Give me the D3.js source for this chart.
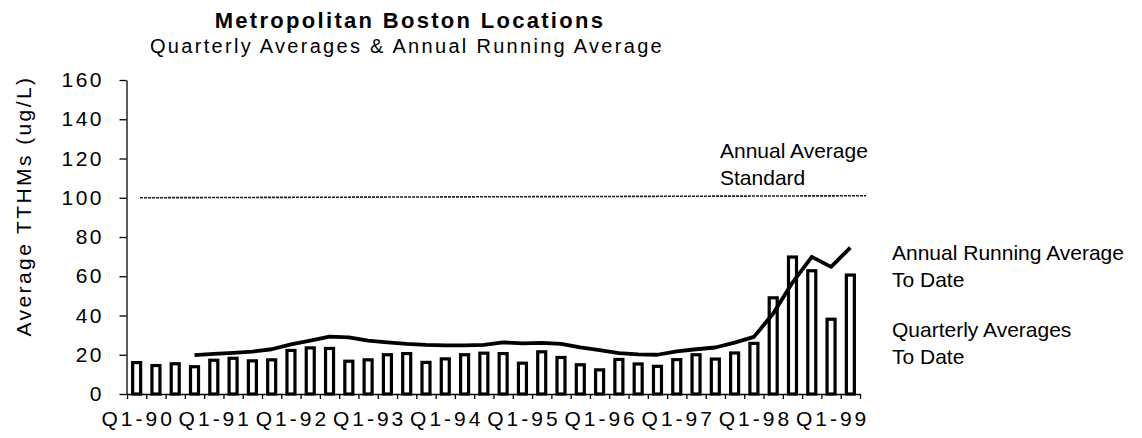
<!DOCTYPE html>
<html lang="en">

<head>
    <meta charset="utf-8">
    <title>Metropolitan Boston Locations</title>
    <style>
        body {
            margin: 0;
            background: #fff;
        }
        text {
            font-family: "Liberation Sans", Arial, sans-serif;
            fill: #000;
        }
        .axis path, .axis line {
            stroke: #000;
            stroke-width: 1.3px;
        }
        .y.axis text {
            font-size: 21px;
            letter-spacing: 2.5px;
        }
        .x.axis text {
            font-size: 21px;
            letter-spacing: 3px;
        }
        .bar {
            fill: #fff;
            stroke: #000;
            stroke-width: 3.2px;
        }
        .running {
            fill: none;
            stroke: #000;
            stroke-width: 3.8px;
            stroke-linejoin: round;
        }
        .standard {
            stroke: #222;
            stroke-width: 1.6px;
            stroke-dasharray: 3 1;
        }
        .note {
            font-size: 21px;
        }
    </style>
</head>

<body>
    <div id="chart"></div>

    <script src="https://cdn.jsdelivr.net/npm/d3@7"></script>
    <script>
        // quarters, Q1-90 .. Q2-99
        const quarters = [
            'Q1-90', 'Q2-90', 'Q3-90', 'Q4-90',
            'Q1-91', 'Q2-91', 'Q3-91', 'Q4-91',
            'Q1-92', 'Q2-92', 'Q3-92', 'Q4-92',
            'Q1-93', 'Q2-93', 'Q3-93', 'Q4-93',
            'Q1-94', 'Q2-94', 'Q3-94', 'Q4-94',
            'Q1-95', 'Q2-95', 'Q3-95', 'Q4-95',
            'Q1-96', 'Q2-96', 'Q3-96', 'Q4-96',
            'Q1-97', 'Q2-97', 'Q3-97', 'Q4-97',
            'Q1-98', 'Q2-98', 'Q3-98', 'Q4-98',
            'Q1-99', 'Q2-99'
        ];

        // quarterly averages (ug/L)
        const quarterly = [
            16.0, 14.5, 15.4, 13.9,
            17.2, 18.2, 16.9, 17.4,
            22.2, 23.5, 23.2, 16.7,
            17.4, 20.0, 20.6, 16.1,
            17.9, 20.0, 20.8, 20.6,
            15.7, 21.5, 18.6, 14.9,
            12.3, 17.6, 15.3, 14.1,
            17.5, 20.0, 17.8, 20.9,
            25.8, 49.0, 69.8, 62.8,
            38.1, 60.6
        ];

        // annual running average, starts after the first four quarters
        const running = [
            null, null, null, 19.8,
            20.4, 21.0, 21.6, 22.8,
            25.3, 27.2, 29.2, 28.9,
            27.2, 26.3, 25.5, 25.0,
            24.8, 24.8, 25.0, 26.3,
            25.8, 26.1, 25.5, 23.8,
            22.4, 20.8, 20.2, 20.0,
            21.7, 22.8, 23.7, 26.2,
            29.1, 41.0, 56.8, 69.9,
            64.8, 74.6
        ];

        const yTicks = [0, 20, 40, 60, 80, 100, 120, 140, 160];
        const standardValue = 100;

        const width = 1142, height = 438,
            margins = {top: 80, right: 282, bottom: 44, left: 127};

        const svg = d3.select('#chart')
            .append('svg')
                .attr('width', width)
                .attr('height', height);

        const x = d3.scaleBand()
            .domain(quarters)
            .range([margins.left, width - margins.right]);

        // index scale for the tick marks between the bars
        const xIdx = d3.scaleLinear()
            .domain([0, quarters.length])
            .range([margins.left, width - margins.right]);

        const y = d3.scaleLinear()
            .domain([0, 160])
            .range([height - margins.bottom, margins.top]);

        // titles
        svg.append('text')
            .attr('x', 410)
            .attr('y', 28)
            .attr('text-anchor', 'middle')
            .style('font-size', '22px')
            .style('font-weight', 'bold')
            .style('letter-spacing', '2.3px')
            .text('Metropolitan Boston Locations');

        svg.append('text')
            .attr('x', 407)
            .attr('y', 53)
            .attr('text-anchor', 'middle')
            .style('font-size', '20px')
            .style('letter-spacing', '2.3px')
            .text('Quarterly Averages & Annual Running Average');

        // y axis
        svg.append('g')
            .attr('class', 'y axis')
            .attr('transform', `translate(${margins.left - 0.5}, 0)`)
            .call(d3.axisLeft(y).tickValues(yTicks).tickSize(7).tickSizeOuter(0).tickPadding(18))
            .call(g => g.selectAll('text').attr('dx', '2.5px'));

        svg.append('text')
            .attr('transform', 'translate(31, 206) rotate(-90)')
            .attr('text-anchor', 'middle')
            .style('font-size', '21px')
            .style('letter-spacing', '2.4px')
            .text('Average TTHMs (ug/L)');

        // x axis: marks between quarters, labels under each Q1
        svg.append('g')
            .attr('class', 'x axis')
            .attr('transform', `translate(0, ${y(0)})`)
            .call(d3.axisBottom(xIdx).tickValues(d3.range(quarters.length + 1))
                .tickSize(5).tickSizeOuter(0).tickFormat(''));

        svg.append('g')
            .attr('class', 'x axis labels')
            .attr('transform', `translate(0, ${y(0)})`)
            .call(d3.axisBottom(x).tickValues(quarters.filter(q => q.startsWith('Q1')))
                .tickSize(0).tickPadding(17))
            .call(g => g.select('.domain').remove())
            .call(g => g.selectAll('text').attr('dx', '1.5px'));

        // standard line
        svg.append('line')
            .attr('class', 'standard')
            .attr('x1', 140)
            .attr('x2', 866)
            .attr('y1', y(standardValue))
            .attr('y2', y(standardValue) - 2);

        // quarterly bars
        const barW = 8;
        svg.append('g')
            .selectAll('rect')
            .data(quarterly)
            .join('rect')
                .attr('class', 'bar')
                .attr('x', (d, i) => x(quarters[i]) + x.bandwidth() / 2 - barW / 2)
                .attr('y', d => y(d))
                .attr('width', barW)
                .attr('height', d => y(0) - y(d));

        // annual running average
        const line = d3.line()
            .defined(d => d != null)
            .x((d, i) => x(quarters[i]) + x.bandwidth() / 2)
            .y(d => y(d));

        svg.append('path')
            .attr('class', 'running')
            .attr('d', line(running));

        // notes on the right
        const notes = [
            {x: 720, y: 158, lines: ['Annual Average', 'Standard']},
            {x: 892, y: 260, lines: ['Annual Running Average', 'To Date']},
            {x: 892, y: 337, lines: ['Quarterly Averages', 'To Date']}
        ];
        notes.forEach(n => {
            const t = svg.append('text')
                .attr('class', 'note')
                .attr('x', n.x)
                .attr('y', n.y);
            t.selectAll('tspan')
                .data(n.lines)
                .join('tspan')
                    .attr('x', n.x)
                    .attr('dy', (d, i) => i ? 27 : 0)
                    .text(d => d);
        });
    </script>
</body>

</html>
